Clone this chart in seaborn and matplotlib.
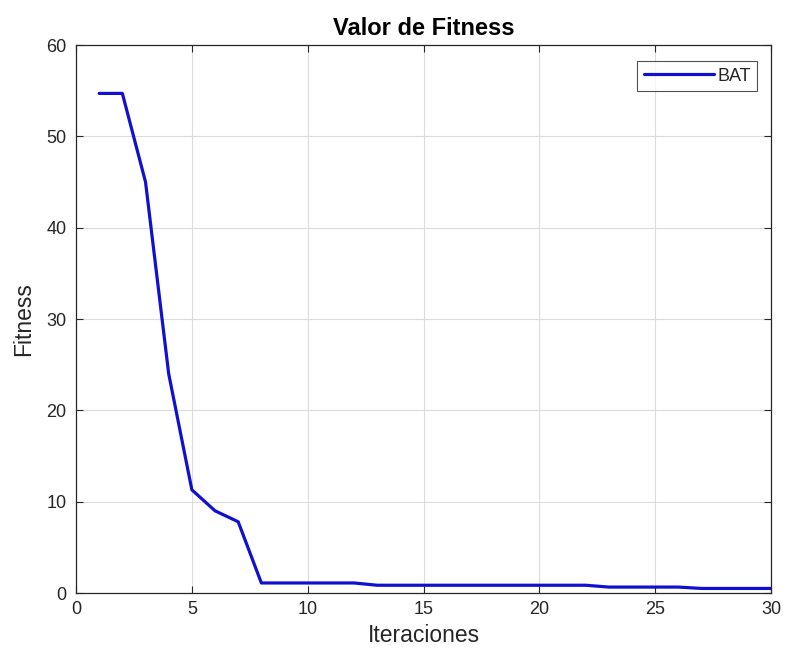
import matplotlib
matplotlib.use("Agg")
import matplotlib.pyplot as plt
import seaborn as sns
import pandas as pd

iteraciones = list(range(1, 31))
fitness = [54.7, 54.7, 45.0, 24.0, 11.3, 9.0, 7.8, 1.1, 1.1, 1.1,
           1.1, 1.1, 0.85, 0.85, 0.85, 0.85, 0.85, 0.85, 0.85, 0.85,
           0.85, 0.85, 0.65, 0.65, 0.65, 0.65, 0.5, 0.5, 0.5, 0.5]
x_ticks = [0, 5, 10, 15, 20, 25, 30]
y_ticks = [0, 10, 20, 30, 40, 50, 60]

sns.set_theme(style="white")
plt.rcParams['font.family'] = ['Liberation Sans', 'DejaVu Sans']

df = pd.DataFrame({"Iteraciones": iteraciones, "Fitness": fitness})

fig = plt.figure(figsize=(7.87, 6.6), dpi=100)
ax = fig.add_axes([0.0966, 0.1015, 0.8831, 0.8303])
sns.lineplot(data=df, x="Iteraciones", y="Fitness", ax=ax, color="#1010d0",
             linewidth=2.3, label="BAT")
ax.set_xlim(0, 30)
ax.set_ylim(0, 60)
ax.set_xticks(x_ticks)
ax.set_yticks(y_ticks)
ax.grid(True, color="#dcdcdc", linewidth=0.8)
for s in ax.spines.values():
    s.set_color("#262626")
    s.set_linewidth(0.9)
ax.tick_params(direction="in", length=5, width=0.8, colors="#262626",
               labelsize=13, pad=7, top=True, right=True, bottom=True, left=True,
               labeltop=False, labelright=False)
ax.tick_params(axis="x", pad=6)
ax.set_xlabel("Iteraciones", fontsize=16.5, color="#262626", labelpad=4)
ax.set_ylabel("Fitness", fontsize=16.5, color="#262626", labelpad=8)
ax.set_title("Valor de Fitness", fontsize=17, fontweight="bold", color="#000000", pad=7)
leg = ax.legend(loc="upper right", bbox_to_anchor=(0.9805, 0.97), fontsize=13,
                frameon=True, fancybox=False, edgecolor="#262626",
                handlelength=3.9, handletextpad=0.2, borderaxespad=0.0,
                borderpad=0.35)
leg.get_frame().set_linewidth(0.8)
fig.savefig("out.png", dpi=100, facecolor="white")
